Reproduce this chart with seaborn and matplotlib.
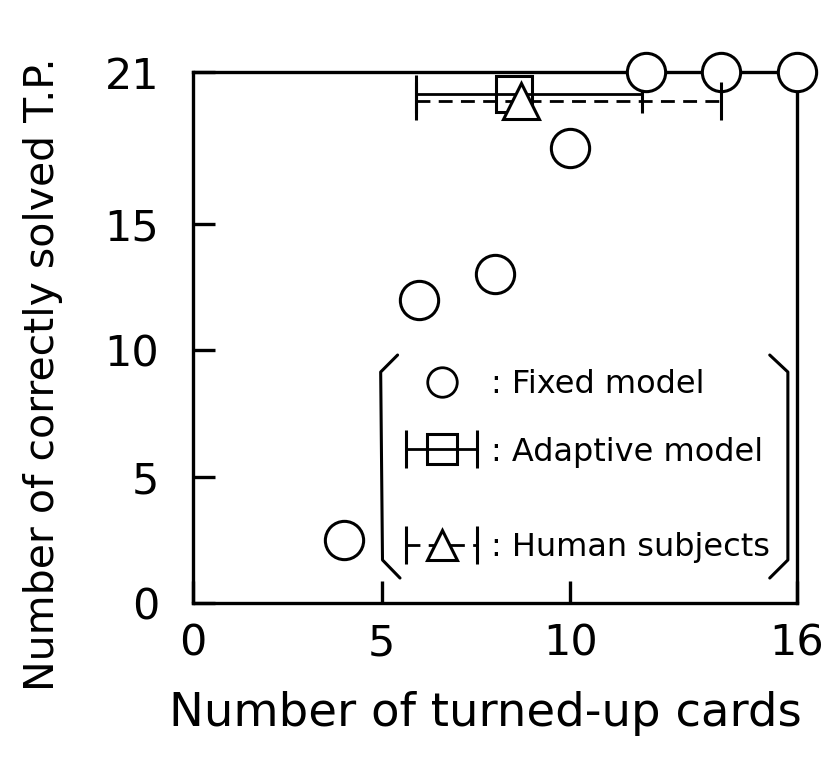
import matplotlib
matplotlib.use("Agg")
import matplotlib.pyplot as plt
from matplotlib.lines import Line2D
from matplotlib.legend_handler import HandlerErrorbar
import seaborn as sns
import pandas as pd

# Fixed model: cards turned up vs. problems solved
fixed_cards = [4, 6, 8, 10, 12, 14, 16]
fixed_solved = [2.5, 12, 13, 18, 21, 21, 21]

# Adaptive model: mean with range of turned-up cards
adaptive_cards = 8.5
adaptive_solved = 20.15
adaptive_range = (5.9, 11.9)

# Human subjects: mean with range of turned-up cards
human_cards = 8.7
human_solved = 19.85
human_range = (5.9, 14.0)

x_ticks = [0, 5, 10, 16]
y_ticks = [0, 5, 10, 15, 21]

sns.set_style("ticks")
plt.rcParams["font.family"] = ["DejaVu Sans"]
plt.rcParams.update({"text.color": "black", "axes.labelcolor": "black",
                     "xtick.color": "black", "ytick.color": "black",
                     "axes.edgecolor": "black"})

fig = plt.figure(figsize=(8.31, 7.58), dpi=100)
ax = fig.add_axes([0.232, 0.2045, 0.727, 0.7005])

df = pd.DataFrame({"cards": fixed_cards, "solved": fixed_solved})
sns.scatterplot(data=df, x="cards", y="solved", ax=ax, marker="o", s=760,
                facecolor="white", edgecolor="black", linewidth=2.2,
                clip_on=False, zorder=5)

eb_ad = ax.errorbar([adaptive_cards], [adaptive_solved],
                    xerr=[[adaptive_cards - adaptive_range[0]],
                          [adaptive_range[1] - adaptive_cards]],
                    fmt="s", ms=26, mfc="none", mec="black", mew=2.2,
                    ecolor="black", elinewidth=2.0, capsize=14, capthick=2.0,
                    clip_on=False, zorder=4)
eb_hu = ax.errorbar([human_cards], [human_solved],
                    xerr=[[human_cards - human_range[0]],
                          [human_range[1] - human_cards]],
                    fmt="^", ms=26, mfc="white", mec="black", mew=2.2,
                    ecolor="black", elinewidth=2.0, capsize=14, capthick=2.0,
                    clip_on=False, zorder=6)
eb_hu[2][0].set_linestyle((0, (5, 3)))

ax.set_xlim(0, 16)
ax.set_ylim(0, 21)
ax.set_xticks(x_ticks)
ax.set_yticks(y_ticks)
ax.set_xticklabels([str(t) for t in x_ticks])
ax.set_yticklabels([str(t) for t in y_ticks])
ax.tick_params(axis="both", direction="in", length=16, width=2.4,
               labelsize=31, color="black", labelcolor="black")
ax.tick_params(axis="x", pad=14)
ax.tick_params(axis="y", pad=24)
for s in ax.spines.values():
    s.set_visible(True)
    s.set_linewidth(2.4)
    s.set_color("black")

ax.set_xlabel("Number of turned-up cards", fontsize=33.5, color="black")
ax.set_ylabel("Number of correctly solved T.P.", fontsize=29.5, color="black")
ax.xaxis.set_label_coords(0.485, -0.165)
ax.yaxis.set_label_coords(-0.215, 0.43)

# Legend: two blocks so the human-subject row sits lower
circle_key = Line2D([], [], marker="o", linestyle="none", ms=25,
                    mfc="white", mec="black", mew=2.0)
leg_kw = dict(loc="center left", frameon=False, fontsize=23,
              handlelength=2.6, handletextpad=0.25, markerscale=0.85,
              borderpad=0, borderaxespad=0,
              handler_map={type(eb_ad): HandlerErrorbar(xerr_size=1.1)})
leg1 = ax.legend([circle_key, eb_ad], [": Fixed model", ": Adaptive model"],
                 bbox_to_anchor=(0.343, 0.348), labelspacing=1.15, **leg_kw)
ax.add_artist(leg1)
leg2 = ax.legend([eb_hu], [": Human subjects"],
                 bbox_to_anchor=(0.343, 0.104), **leg_kw)

# Brackets around the legend
br_kw = dict(transform=ax.transAxes, color="black", lw=2.2, clip_on=False)
ax.plot([0.339, 0.311, 0.314, 0.343], [0.467, 0.435, 0.081, 0.047], **br_kw)
ax.plot([0.955, 0.985, 0.985, 0.955], [0.467, 0.435, 0.081, 0.047], **br_kw)

fig.savefig("out.png", dpi=100)
